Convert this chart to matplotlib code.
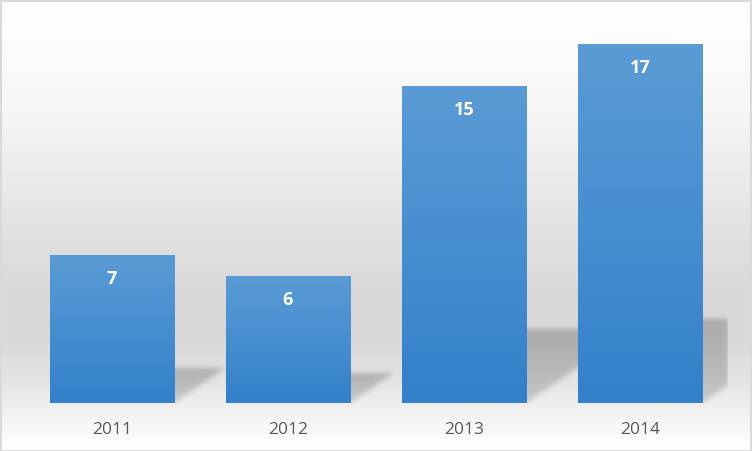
import numpy as np
import matplotlib
matplotlib.use("Agg")
import matplotlib.pyplot as plt
from matplotlib.patches import Rectangle

categories = ["2011", "2012", "2013", "2014"]
values = [7, 6, 15, 17]

W, H = 752, 452
DPI = 100
fig = plt.figure(figsize=(W / DPI, H / DPI), dpi=DPI)

# ---- chart-area gradient background ----
bg = fig.add_axes([0, 0, 1, 1], zorder=-10)
stops_y = np.array([0, 60, 150, 230, 300, 340, 380, 410, 440, 452])
stops_v = np.array([255, 252, 240, 226, 216, 217, 227, 241, 252, 255]) / 255.0
ys = np.arange(H)
col = np.interp(ys, stops_y, stops_v)
img = np.repeat(col[:, None], 4, axis=1)
bg.imshow(np.dstack([img, img, img]), aspect="auto", extent=[0, 1, 0, 1],
          origin="upper", interpolation="bilinear")
bg.set_xlim(0, 1)
bg.set_ylim(0, 1)
bg.axis("off")
bg.add_patch(Rectangle((0.5 / W, 0.5 / H), 1 - 2 / W, 1 - 2 / H,
                       fill=False, edgecolor="#d9d9d9", lw=1.5,
                       transform=bg.transAxes))

# ---- plot area ----
left_px, right_px, top_px, bot_px = 24, 728, 23, 403.5
ax = fig.add_axes([left_px / W, (H - bot_px) / H,
                   (right_px - left_px) / W, (bot_px - top_px) / H])
ax.patch.set_alpha(0)
ymax = 18.05
xlim = (-0.5, len(categories) - 0.5)
ax.set_xlim(*xlim)
ax.set_ylim(0, ymax)
for s in ax.spines.values():
    s.set_visible(False)
ax.set_yticks([])
x = np.arange(len(categories))
ax.set_xticks(x)
ax.set_xticklabels(categories, fontsize=12.5, color="#595959",
                   family=["Open Sans", "DejaVu Sans"])
ax.tick_params(axis="x", length=0, pad=13)

bw = 0.705

# ---- perspective shadows ----
pw, ph = int(right_px - left_px), int(round(bot_px - top_px))
cols = (np.arange(pw) + 0.5) / pw * (xlim[1] - xlim[0]) + xlim[0]
rows = (np.arange(ph) + 0.5)  # pixels above baseline
CX, RY = np.meshgrid(cols, rows)
alpha = np.zeros((ph, pw))
k = 1.45  # horizontal shift in px per px of height
px_per_x = pw / (xlim[1] - xlim[0])
px_per_y = ph / ymax
for xi, v in zip(x, values):
    hs = 0.235 * v * px_per_y
    shift = k * RY / px_per_x
    inside = (RY <= hs) & (CX >= xi - bw / 2 + shift) & (CX <= xi + bw / 2 + shift)
    a = 0.15 + 0.06 * (RY / hs)
    alpha = np.where(inside, np.maximum(alpha, a), alpha)

def blur(arr, sigma):
    r = int(3 * sigma)
    kern = np.exp(-0.5 * (np.arange(-r, r + 1) / sigma) ** 2)
    kern /= kern.sum()
    out = np.apply_along_axis(lambda m: np.convolve(np.pad(m, r, mode="edge"), kern, mode="valid"), 0, arr)
    out = np.apply_along_axis(lambda m: np.convolve(np.pad(m, r, mode="constant"), kern, mode="valid"), 1, out)
    return out

alpha = blur(alpha, 2.5)
shadow = np.zeros((ph, pw, 4))
shadow[..., 3] = alpha
ax.imshow(shadow, extent=[xlim[0], xlim[1], 0, ymax], origin="lower",
          aspect="auto", zorder=1, interpolation="bilinear")

# ---- gradient bars ----
top_c = np.array([91, 155, 213]) / 255
bot_c = np.array([51, 129, 202]) / 255
bars = ax.bar(x, values, width=bw, color=tuple(top_c), zorder=2, linewidth=0)
grad_t = np.linspace(0, 1, 256)[:, None]
grad = bot_c[None, None, :] * (1 - grad_t[..., None]) + top_c[None, None, :] * grad_t[..., None]
for b, v in zip(bars, values):
    x0 = b.get_x()
    im = ax.imshow(grad, extent=[x0, x0 + bw, 0, v], origin="lower",
                   aspect="auto", zorder=3, interpolation="bilinear")
    im.set_clip_path(b)
    ax.text(b.get_x() + bw / 2, v - 23 / px_per_y, str(v), ha="center", va="center",
            color="white", fontsize=13, fontweight="bold",
            family=["Open Sans", "DejaVu Sans"], zorder=4)

ax.set_xlim(*xlim)
ax.set_ylim(0, ymax)
fig.savefig("out.png", dpi=DPI)
